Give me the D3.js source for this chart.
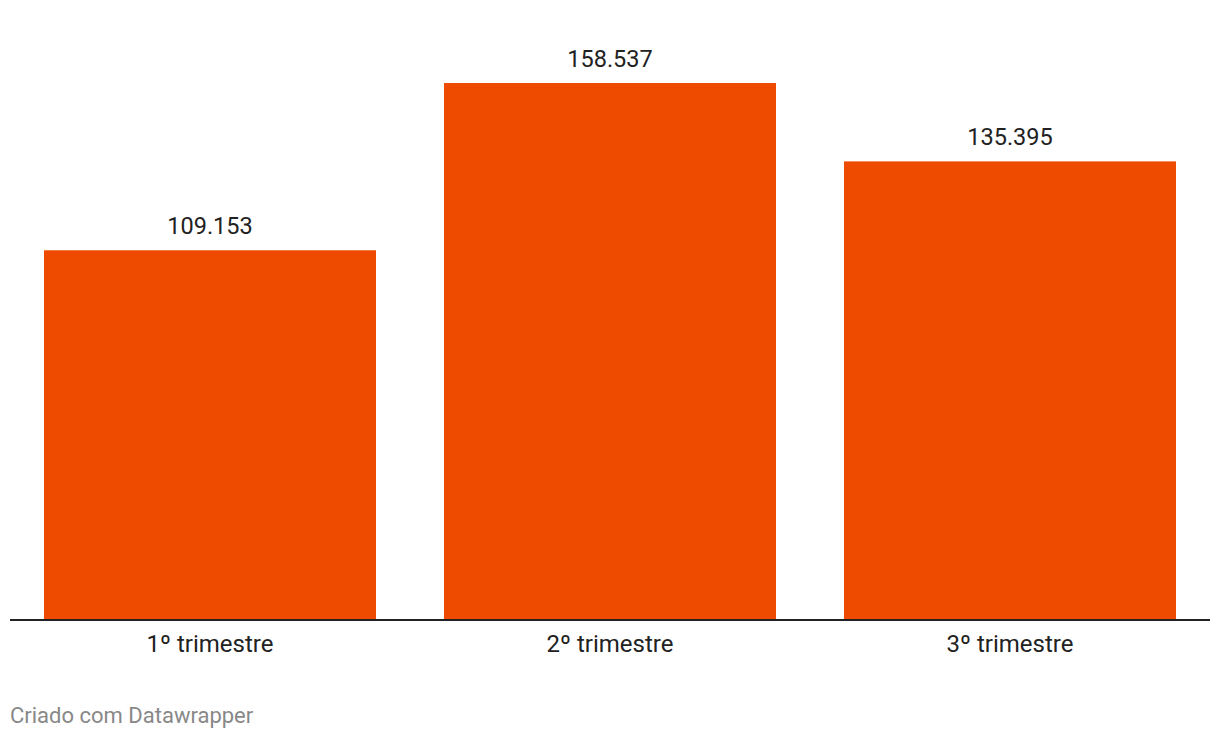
<!DOCTYPE html>
<html><head><meta charset="utf-8">
<script src="https://cdn.jsdelivr.net/npm/d3@7"></script>
<style>body{margin:0;background:#fff;}svg{display:block;font-family:Roboto,sans-serif;}</style>
</head><body><svg id="c" width="1220" height="740"></svg>
<script>
const categories = ["1º trimestre", "2º trimestre", "3º trimestre"];
const values = [109153, 158537, 135395];
const valueLabels = ["109.153", "158.537", "135.395"];

const svg = d3.select("#c");
const baseY = 620;
const x = d3.scaleBand().domain(categories).range([10, 1210]).paddingInner(0.17).paddingOuter(0.085);
const y = d3.scaleLinear().domain([0, d3.max(values)]).range([baseY, 83]);

svg.selectAll("rect.bar").data(values).join("rect")
  .attr("class","bar")
  .attr("x",(d,i)=>x(categories[i]))
  .attr("width",x.bandwidth())
  .attr("y",d=>y(d))
  .attr("height",d=>baseY-y(d))
  .attr("fill","#ee4a00");

svg.selectAll("text.val").data(values).join("text")
  .attr("class","val")
  .attr("x",(d,i)=>x(categories[i])+x.bandwidth()/2)
  .attr("y",d=>y(d)-16)
  .attr("text-anchor","middle")
  .attr("font-size",23.5)
  .attr("fill","#222")
  .text((d,i)=>valueLabels[i]);

const xAxis = d3.axisBottom(x).tickSize(0).tickPadding(0);
const g = svg.append("g").attr("transform",`translate(0,${baseY})`).call(xAxis);
g.select(".domain").attr("stroke","#222").attr("stroke-width",2).attr("d","M10,0H1210");
g.selectAll(".tick text").attr("font-size",24).attr("fill","#222").attr("font-family","Roboto,sans-serif")
  .attr("dy",null).attr("y",31.5);

svg.append("text").attr("x",10).attr("y",723).attr("font-size",22).attr("fill","#888")
  .text("Criado com Datawrapper");
</script></body></html>
